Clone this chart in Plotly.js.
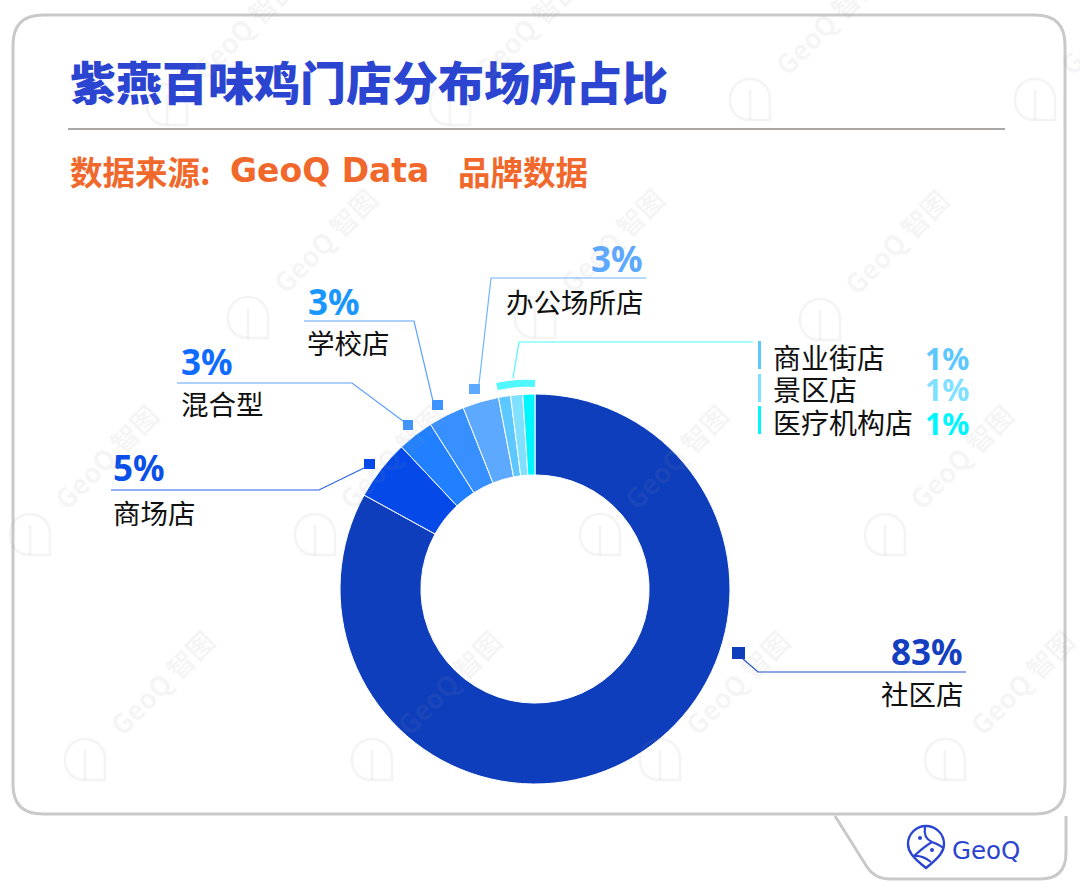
<!DOCTYPE html>
<html><head><meta charset="utf-8">
<script src="https://cdn.plot.ly/plotly-3.0.1.min.js"></script>
<style>html,body{margin:0;padding:0;background:#fff}#c{width:1080px;height:894px}</style>
</head><body><div id="c"></div>
<script>
const categories = ['社区店','商场店','混合型','学校店','办公场所店','商业街店','景区店','医疗机构店'];
const shareValues = [83,5,3,3,3,1,1,1];
const sliceColors = ['#0F3EBD','#0549E8','#2080FF','#3890FF','#5CA9FF','#5CC8FF','#80E0FF','#00F6FF'];
const pctColors   = ['#1440C0','#0A4FE8','#0F6BFF','#1A96FF','#5CA9FF','#5CC8FF','#80E0FF','#00F6FF'];
const titleText = '紫燕百味鸡门店分布场所占比';
const W = 1080, H = 894;
const CJK = '"Noto Sans CJK SC"';
const px = x => x / W, py = y => 1 - y / H;
const pathOf = pts => pts.map(p => typeof p === 'string' ? p : null);

function toPath(cmds){ // [['M',x,y],['L',x,y],['Q',cx,cy,x,y],['C',...],['Z']]
  return cmds.map(c=>{
    let s=c[0];
    for(let i=1;i<c.length;i+=2){ s+=' '+px(c[i]).toFixed(5)+','+py(c[i+1]).toFixed(5); }
    return s;
  }).join(' ');
}
const shapes = [], annotations = [];
function pathShape(cmds,color,width,fill){
  shapes.push({type:'path',xref:'paper',yref:'paper',path:toPath(cmds),layer:'above',
    line:{color:color,width:width},fillcolor:fill||'rgba(0,0,0,0)'});
}
function rect(x0,y0,x1,y1,color){
  shapes.push({type:'rect',xref:'paper',yref:'paper',x0:px(x0),x1:px(x1),y0:py(y0),y1:py(y1),
    line:{width:0},fillcolor:color,layer:'above'});
}
function circle(cx,cy,r,color,width,fill){
  shapes.push({type:'circle',xref:'paper',yref:'paper',x0:px(cx-r),x1:px(cx+r),y0:py(cy+r),y1:py(cy-r),
    line:{color:color,width:width},fillcolor:fill||'rgba(0,0,0,0)',layer:'above'});
}
function text(t,x,y,anchor,size,color,family,weight,angle){
  annotations.push({text:t,x:px(x),y:py(y),xref:'paper',yref:'paper',xanchor:anchor,yanchor:'middle',
    showarrow:false,textangle:angle||0,font:{size:size,color:color,family:family||CJK,weight:weight||400}});
}
// Frame
pathShape([['M',43,15],['L',1035,15],['Q',1065,15,1065,45],['L',1065,785],['Q',1065,814,1035,814],
  ['L',43,814],['Q',13,814,13,785],['L',13,45],['Q',13,15,43,15],['Z']],'#C9C9C9',3);
// footer tab
pathShape([['M',835,816],['L',867,867],['Q',875,879,890,879],['L',1040,879],['Q',1066,879,1066,853],['L',1066,816]],'#C9C9C9',3);
// title
text(titleText,68,80,'left',46,'#2B45D0',CJK,900);
shapes.push({type:'line',xref:'paper',yref:'paper',x0:px(68),x1:px(1005),y0:py(129),y1:py(129),line:{color:'#8E8A86',width:1.5},layer:'above'});
text('数据来源:',68,170,'left',32.5,'#F0682B',CJK,700);
text('GeoQ Data',228,170,'left',33,'#F0682B','"DejaVu Sans"',700);
text('品牌数据',456,170,'left',32.5,'#F0682B',CJK,700);

// callouts
const pctFont = '"Noto Sans"';
function callout(i,marker,line,lineColor,pctPos,labPos,anchor){
  rect(marker[0],marker[1],marker[2],marker[3],marker[4]);
  pathShape(line.map((p,k)=>[k?'L':'M',p[0],p[1]]),lineColor,1.2);
  text(shareValues[i]+'%',pctPos[0],pctPos[1],anchor,35,pctColors[i],pctFont,700);
  text(categories[i],labPos[0],labPos[1],anchor,27.5,'#111111');
}
callout(0,[732,647,745,659,'#0F3EBD'],[[743,659],[758,672],[966,672]],'#1C4FD0',[965,651],[966,693],'right');
callout(1,[364,459,375,469,'#0549E8'],[[366,467],[319,490],[111,490]],'#2A62EC',[111,467],[111,512],'left');
callout(2,[403,420,413,430,'#3D94FF'],[[403,421],[352,383],[177,383]],'#5CA0FF',[179,361],[179,403],'left');
callout(3,[432,400,443,410,'#3D94FF'],[[433,401],[414,321],[304,321]],'#5CA0FF',[306,301],[305,342],'left');
callout(4,[469,384,480,394,'#5CA9FF'],[[479,384],[491,278],[646,278]],'#6CB4FF',[645,259],[646,301],'right');
// tiny-slice bracket
pathShape([['M',497,386.5],['Q',516,382.5,535,383.5]],'#4FF8FF',7);
pathShape([['M',513,378],['L',519,342],['L',753,342]],'#4FF8FF',1.2);
const legY = [[341,369,357,358],[374,402,389,390],[406,434,422,423]];
[5,6,7].forEach((i,k)=>{
  rect(758,legY[k][0],761,legY[k][1],sliceColors[i]);
  text(categories[i],771,legY[k][2],'left',28,'#111111');
  text(shareValues[i]+'%',971,legY[k][3],'right',30,sliceColors[i],pctFont,700);
});

// logo
const logo = '#2B45D0';
pathShape([['M',926,826],['C',936,826,944,834,944,844],['C',944,851,940,857,926,868],['C',912,857,908,851,908,844],
  ['C',908,834,916,826,926,826],['Z']],logo,2.4);
pathShape([['M',925,827],['Q',923,838,932,842],['Q',940,845,943,848]],logo,2.2);
pathShape([['M',932,842],['Q',925,846,914,856]],logo,2.2);
pathShape([['M',914,856],['Q',922,855,931,862]],logo,2.2);
circle(920,838,2,logo,0,logo);
circle(932,850,2,logo,0,logo);
text('GeoQ',950,850,'left',24.5,logo,'"DejaVu Sans"',400);

// watermarks
const wmOwls = [[167,105],[450,105],[750,100],[1035,100],[248,318],[535,318],[820,320],
  [30,535],[315,535],[600,535],[885,535],[85,760],[372,760],[660,760],[945,760]];
const wmColor = 'rgba(150,150,150,0.10)';
wmOwls.forEach(([x,y])=>{
  pathShape([['M',x-20,y],['C',x-20,y-28,x+20,y-28,x+20,y],['L',x+20,y+20],['L',x,y+20],
    ['C',x-12,y+20,x-20,y+12,x-20,y],['Z']],wmColor,2.5);
  pathShape([['M',x,y-10],['L',x,y+20]],wmColor,2.5);
  text('GeoQ 智图',x+76,y-78,'center',27,wmColor,CJK,700,-45);
});

const trace = {type:'pie',labels:categories,values:shareValues,hole:0.585,sort:false,direction:'clockwise',rotation:0,
  domain:{x:[px(340),px(730)],y:[py(784),py(394)]},
  marker:{colors:sliceColors,line:{color:'#FFFFFF',width:1}},
  textinfo:'none',hoverinfo:'label+percent',showlegend:false};
Plotly.newPlot('c',[trace],{width:W,height:H,margin:{l:0,r:0,t:0,b:0},paper_bgcolor:'#FFFFFF',plot_bgcolor:'#FFFFFF',
  showlegend:false,shapes:shapes,annotations:annotations},{displayModeBar:false,staticPlot:true});
</script></body></html>
